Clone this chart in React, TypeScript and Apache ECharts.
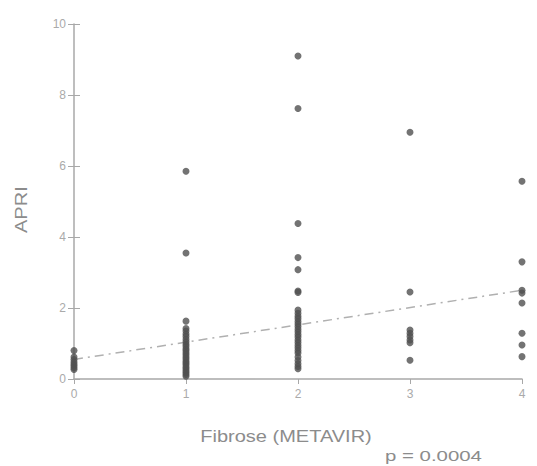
import React, { useEffect, useRef } from "react";
import * as echarts from "echarts";

const xTicks = [0, 1, 2, 3, 4];
const yTicks = [0, 2, 4, 6, 8, 10];

const fib0 = [0.8, 0.62, 0.55, 0.48, 0.42, 0.37, 0.32, 0.27];
const fib1 = [5.85, 3.55, 1.63, 1.42, 1.35, 1.27, 1.2, 1.12, 1.05, 0.98, 0.92, 0.85, 0.8, 0.74, 0.68, 0.62, 0.56, 0.5, 0.45, 0.4, 0.34, 0.29, 0.23, 0.18, 0.13, 0.08];
const fib2 = [9.1, 7.62, 4.38, 3.42, 3.08, 2.48, 2.44, 1.94, 1.85, 1.77, 1.7, 1.62, 1.55, 1.48, 1.4, 1.33, 1.25, 1.18, 1.1, 1.03, 0.95, 0.88, 0.8, 0.73, 0.62, 0.52, 0.43, 0.35, 0.29];
const fib3 = [6.95, 2.45, 1.38, 1.29, 1.2, 1.1, 1.02, 0.53];
const fib4 = [5.57, 3.3, 2.5, 2.42, 2.14, 1.29, 0.96, 0.63];
const trendLine = [
  [0, 0.55],
  [4, 2.5],
];

const groups = [fib0, fib1, fib2, fib3, fib4];

export default function App() {
  const ref = useRef<HTMLDivElement>(null);
  useEffect(() => {
    if (!ref.current) return;
    const chart = echarts.init(ref.current, undefined, { renderer: "svg" });
    const points: number[][] = [];
    groups.forEach((g, i) => g.forEach((v) => points.push([xTicks[i], v])));
    const font = "'Liberation Sans', Arial, sans-serif";
    const yMin = yTicks[0];
    const yMax = yTicks[yTicks.length - 1];
    const yInt = yTicks[1] - yTicks[0];
    chart.setOption({
      animation: false,
      backgroundColor: "#ffffff",
      grid: { left: 74, right: 15, top: 24, bottom: 87 },
      xAxis: {
        type: "value",
        min: xTicks[0],
        max: xTicks[xTicks.length - 1],
        interval: 1,
        axisLine: { show: true, lineStyle: { color: "#a8a8a8", width: 1.5 } },
        axisTick: { show: true, length: 5, lineStyle: { color: "#a8a8a8" } },
        axisLabel: { color: "#aaaaaa", fontSize: 12, fontFamily: font, margin: 9 },
        splitLine: { show: false },
      },
      yAxis: [
        {
          type: "value",
          min: yMin,
          max: yMax,
          interval: yInt,
          axisLine: { show: true, lineStyle: { color: "#a8a8a8", width: 1.5 } },
          axisTick: { show: true, length: 6, lineStyle: { color: "#a8a8a8" } },
          axisLabel: { color: "#aaaaaa", fontSize: 12, fontFamily: font, margin: 8 },
          splitLine: { show: false },
        },
        {
          type: "value",
          position: "left",
          min: yMin,
          max: yMax,
          interval: yInt,
          axisLine: { show: false },
          axisTick: { show: true, inside: true, length: 6, lineStyle: { color: "#a8a8a8" } },
          axisLabel: { show: false },
          splitLine: { show: false },
        },
      ],
      series: [
        {
          type: "line",
          data: trendLine,
          symbol: "none",
          lineStyle: { color: "#b0b0b0", width: 1.5, type: [9, 5, 2, 5] },
          z: 1,
        },
        {
          type: "scatter",
          data: points,
          symbol: "circle",
          symbolSize: 7,
          itemStyle: { color: "#505050" },
          z: 2,
        },
      ],
      graphic: [
        {
          type: "text",
          x: 13,
          y: 233,
          rotation: Math.PI / 2,
          scaleX: 1.18,
          style: { text: "APRI", fill: "#8c8c8c", font: `17px ${font}` },
        },
        {
          type: "text",
          x: 286,
          y: 437,
          scaleX: 1.25,
          style: {
            text: "Fibrose (METAVIR)",
            fill: "#8c8c8c",
            font: `16px ${font}`,
            align: "center",
            verticalAlign: "middle",
          },
        },
        {
          type: "text",
          x: 385,
          y: 456,
          scaleX: 1.36,
          style: {
            text: "p = 0.0004",
            fill: "#8c8c8c",
            font: `15px ${font}`,
            verticalAlign: "middle",
          },
        },
      ],
    });
    return () => chart.dispose();
  }, []);
  return <div ref={ref} style={{ width: 537, height: 466, position: "absolute", left: 0, top: 0 }} />;
}
